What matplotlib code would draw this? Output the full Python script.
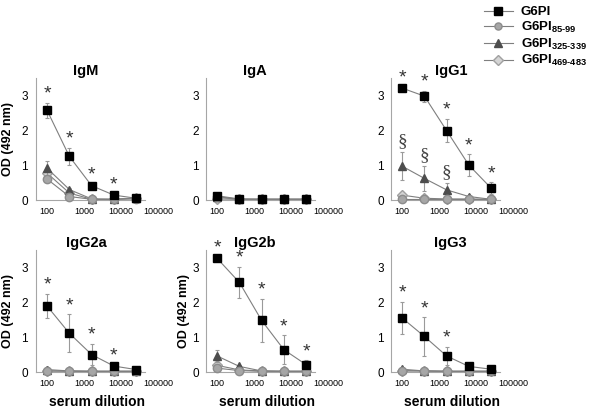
import numpy as np
import matplotlib
matplotlib.use('Agg')
import matplotlib.pyplot as plt

plt.rcParams['font.family'] = ['Liberation Sans', 'DejaVu Sans']
plt.rcParams['mathtext.fontset'] = 'custom'
plt.rcParams['mathtext.rm'] = 'Liberation Sans:bold'
plt.rcParams['mathtext.bf'] = 'Liberation Sans:bold'
plt.rcParams['mathtext.default'] = 'rm'

# serum dilutions
dilution = [100, 400, 1600, 6400, 25600]
xtick_vals = [100, 1000, 10000, 100000]
xtick_labels = ['100', '1000', '10000', '100000']

series_names = ['G6PI', 'G6PI$_{85\\text{-}99}$', 'G6PI$_{325\\text{-}339}$', 'G6PI$_{469\\text{-}483}$']

# OD values, rows: G6PI, G6PI85-99, G6PI325-339, G6PI469-483
igm_od = [[2.57, 1.25, 0.41, 0.14, 0.05],
          [0.60, 0.10, 0.02, 0.02, 0.03],
          [0.91, 0.30, 0.03, 0.02, 0.05],
          [0.77, 0.20, 0.02, 0.02, 0.06]]
igm_err = [[0.22, 0.25, 0.05, 0.04, 0.02],
           [0.05, 0.03, 0.01, 0.01, 0.01],
           [0.22, 0.05, 0.01, 0.01, 0.01],
           [0.08, 0.04, 0.01, 0.01, 0.01]]

iga_od = [[0.12, 0.03, 0.02, 0.02, 0.02],
          [0.08, 0.02, 0.02, 0.02, 0.02],
          [0.10, 0.02, 0.02, 0.02, 0.02],
          [0.03, 0.02, 0.02, 0.02, 0.02]]
iga_err = [[0.03, 0.01, 0.01, 0.01, 0.01],
           [0.02, 0.01, 0.01, 0.01, 0.01],
           [0.02, 0.01, 0.01, 0.01, 0.01],
           [0.01, 0.01, 0.01, 0.01, 0.01]]

igg1_od = [[3.21, 2.98, 1.99, 1.00, 0.34],
           [0.02, 0.02, 0.02, 0.02, 0.02],
           [0.97, 0.62, 0.29, 0.10, 0.02],
           [0.14, 0.05, 0.03, 0.03, 0.02]]
igg1_err = [[0.05, 0.16, 0.34, 0.32, 0.17],
            [0.01, 0.01, 0.01, 0.01, 0.01],
            [0.40, 0.35, 0.19, 0.04, 0.01],
            [0.03, 0.02, 0.01, 0.01, 0.01]]

igg2a_od = [[1.89, 1.11, 0.50, 0.17, 0.07],
            [0.03, 0.03, 0.02, 0.02, 0.02],
            [0.07, 0.03, 0.02, 0.02, 0.02],
            [0.03, 0.02, 0.02, 0.02, 0.02]]
igg2a_err = [[0.35, 0.55, 0.31, 0.05, 0.02],
             [0.01, 0.01, 0.01, 0.01, 0.01],
             [0.02, 0.01, 0.01, 0.01, 0.01],
             [0.01, 0.01, 0.01, 0.01, 0.01]]

igg2b_od = [[3.26, 2.57, 1.48, 0.64, 0.21],
            [0.11, 0.04, 0.02, 0.02, 0.02],
            [0.46, 0.16, 0.03, 0.02, 0.02],
            [0.19, 0.06, 0.03, 0.02, 0.02]]
igg2b_err = [[0.05, 0.45, 0.62, 0.41, 0.12],
             [0.02, 0.01, 0.01, 0.01, 0.01],
             [0.18, 0.04, 0.01, 0.01, 0.01],
             [0.04, 0.02, 0.01, 0.01, 0.01]]

igg3_od = [[1.55, 1.02, 0.46, 0.16, 0.08],
           [0.03, 0.03, 0.02, 0.02, 0.02],
           [0.08, 0.03, 0.02, 0.02, 0.02],
           [0.04, 0.03, 0.02, 0.02, 0.02]]
igg3_err = [[0.47, 0.55, 0.27, 0.04, 0.02],
            [0.01, 0.01, 0.01, 0.01, 0.01],
            [0.02, 0.01, 0.01, 0.01, 0.01],
            [0.01, 0.01, 0.01, 0.01, 0.01]]

# significance marks: which dilutions get a * (G6PI) and a section sign (G6PI325-339)
igm_star = [1, 1, 1, 1, 0]
iga_star = [0, 0, 0, 0, 0]
igg1_star = [1, 1, 1, 1, 1]
igg2a_star = [1, 1, 1, 1, 0]
igg2b_star = [1, 1, 1, 1, 1]
igg3_star = [1, 1, 1, 0, 0]
igg1_section = [1, 1, 1, 0, 0]

panels = [
    ('IgM', igm_od, igm_err, igm_star, None),
    ('IgA', iga_od, iga_err, iga_star, None),
    ('IgG1', igg1_od, igg1_err, igg1_star, igg1_section),
    ('IgG2a', igg2a_od, igg2a_err, igg2a_star, None),
    ('IgG2b', igg2b_od, igg2b_err, igg2b_star, None),
    ('IgG3', igg3_od, igg3_err, igg3_star, None),
]

styles = [
    dict(marker='s', ms=6.0, mfc='black', mec='black'),
    dict(marker='o', ms=6.0, mfc='#a6a6a6', mec='#8c8c8c'),
    dict(marker='^', ms=6.0, mfc='#4d4d4d', mec='#4d4d4d'),
    dict(marker='D', ms=5.5, mfc='#d4d4d4', mec='#a0a0a0'),
]
line_col = '#7f7f7f'

W, H = 600, 411
fig = plt.figure(figsize=(6, 4.11), dpi=100)

lefts = [36, 206, 391]
title_x = [0.41, 0.4, 0.49]
tops = [78, 250]
aw, ah = 122, 122

for i, (title, od, err, star, section) in enumerate(panels):
    row, col = divmod(i, 3)
    ax = fig.add_axes([lefts[col] / W, 1 - (tops[row] + ah) / H, aw / W, ah / H])
    # draw from last series to first so the black squares sit on top
    for k in [3, 2, 1, 0]:
        ax.errorbar(dilution, od[k], yerr=err[k], color=line_col, lw=0.8,
                    ecolor='#9a9a9a', elinewidth=0.8, capsize=1.5, capthick=0.8,
                    zorder=3 + (3 - k), clip_on=False, **styles[k])
    for j, s in enumerate(star):
        if s:
            ax.text(dilution[j], od[0][j] + err[0][j], '*', ha='center', va='bottom',
                    fontsize=14, color='#333333', zorder=10)
    if section is not None:
        for j, s in enumerate(section):
            if s:
                ax.text(dilution[j], od[2][j] + err[2][j] + 0.05, '\u00a7', ha='center', va='bottom',
                        fontsize=14, family='Liberation Serif', color='#444444', zorder=10)
    ax.set_xscale('log')
    ax.set_xlim(50, 100000)
    ax.set_ylim(0, 3.5)
    ax.set_xticks(xtick_vals)
    ax.set_xticklabels(xtick_labels, fontsize=6.5)
    ax.minorticks_off()
    ax.set_yticks([0, 1, 2, 3])
    ax.set_yticklabels(['0', '1', '2', '3'], fontsize=8.5)
    ax.tick_params(length=0, pad=5)
    ax.tick_params(axis='y', pad=6 if col == 0 else 5)
    for sp in ['top', 'right']:
        ax.spines[sp].set_visible(False)
    for sp in ['left', 'bottom']:
        ax.spines[sp].set_color('#a6a6a6')
        ax.spines[sp].set_linewidth(0.8)
    ax.spines['bottom'].set_bounds(50, 45000)
    ax.set_title(title, fontsize=10.5, fontweight='bold', pad=1, x=title_x[col])
    if col == 0 or (row == 1 and col == 1):
        ax.set_ylabel('OD (492 nm)', fontsize=9, fontweight='bold')
        ax.yaxis.set_label_coords(-0.18 if col == 0 else -0.135, 0.5)
    if row == 1:
        ax.set_xlabel('serum dilution', fontsize=10, fontweight='bold')
        ax.xaxis.set_label_coords(0.5, -0.19)

# legend
handles = []
for k in range(4):
    h, = plt.plot([], [], color=line_col, lw=0.8, **styles[k])
    handles.append(h)
fig.legend(handles, series_names, loc='upper left', bbox_to_anchor=(482 / W, 1 - 4 / H),
           frameon=False, handlelength=2.2, handletextpad=0.6, markerscale=0.85,
           borderaxespad=0.0, borderpad=0.15,
           labelspacing=0.12, prop={'weight': 'bold', 'size': 9.5})

fig.savefig('out.png', dpi=100)
